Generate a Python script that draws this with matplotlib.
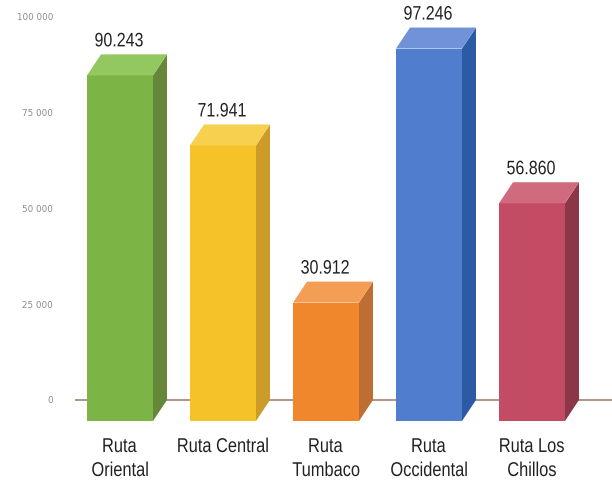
import matplotlib
matplotlib.use("Agg")
import matplotlib.pyplot as plt
from matplotlib.patches import Polygon, PathPatch
from matplotlib.textpath import TextPath
from matplotlib.font_manager import FontProperties
from matplotlib.transforms import Affine2D

categories = ["Ruta\nOriental", "Ruta Central", "Ruta\nTumbaco", "Ruta\nOccidental", "Ruta Los\nChillos"]
values = [90243, 71941, 30912, 97246, 56860]
value_labels = ["90.243", "71.941", "30.912", "97.246", "56.860"]
yticks = [0, 25000, 50000, 75000, 100000]
ytick_labels = ["0", "25 000", "50 000", "75 000", "100 000"]

front_colors = ["#7db446", "#f5c328", "#f0872d", "#507dcd", "#c34b64"]
side_colors = ["#64873a", "#cd9b28", "#be6e32", "#2d5aa5", "#8c3748"]
top_colors = ["#93c760", "#f8d050", "#f49e55", "#6f93d6", "#d06a7e"]

W, H = 612, 489
fig = plt.figure(figsize=(W / 100, H / 100), dpi=100)

# pixel geometry
px_per_unit_y = 383.0 / 100000
zero_px = 401.0
ylo, yhi = -12000, 104000
bottom_px = zero_px + (0 - ylo) * px_per_unit_y
top_px = zero_px - (yhi - 0) * px_per_unit_y
x0_px, x1_px = 75, 612
step_px = 103.0
c0_px = 120.0
xlo = (x0_px - c0_px) / step_px
xhi = (x1_px - c0_px) / step_px

ax = fig.add_axes([x0_px / W, (H - bottom_px) / H, (x1_px - x0_px) / W, (bottom_px - top_px) / H])
ax.set_xlim(xlo, xhi)
ax.set_ylim(ylo, yhi)
ax.axis("off")

width = 66 / step_px
dx = 14 / step_px
dy = 21 / px_per_unit_y

ax.plot([xlo, xhi], [0, 0], color="#a8826e", lw=1.2, zorder=1)

fp = FontProperties(family="Liberation Sans")


def narrow_text(x_disp, y_disp, s, size_px, sx=0.82, color="#222222"):
    """Draw horizontally condensed text centred at x_disp with baseline y_disp (display px)."""
    tp = TextPath((0, 0), s, size=size_px, prop=fp)
    ext = tp.get_extents()
    w = ext.x1 + ext.x0
    tr = Affine2D().scale(sx, 1.0).translate(x_disp - sx * w / 2, y_disp)
    patch = PathPatch(tp, transform=tr, fc=color, ec="none", lw=0, zorder=5)
    fig.add_artist(patch)


for i, (v, fc, sc, tc) in enumerate(zip(values, front_colors, side_colors, top_colors)):
    xl = i - width / 2
    xr = i + width / 2
    fb = -dy
    ft = v - dy
    front = Polygon([(xl, fb), (xr, fb), (xr, ft), (xl, ft)], closed=True, fc=fc, ec="none", zorder=3)
    side = Polygon([(xr, fb), (xr + dx, 0), (xr + dx, v), (xr, ft)], closed=True, fc=sc, ec="none", zorder=3)
    top = Polygon([(xl, ft), (xr, ft), (xr + dx, v), (xl + dx, v)], closed=True, fc=tc, ec="none", zorder=3)
    for p in (front, side, top):
        ax.add_patch(p)

    cx, vy = ax.transData.transform((i, v))
    narrow_text(cx - 1, vy + 8, value_labels[i], 19.5)

    _, zy = ax.transData.transform((i, 0))
    lines = categories[i].split("\n")
    for k, line in enumerate(lines):
        narrow_text(cx, zy - 52 - 24 * k, line, 20)

for t, lab in zip(yticks, ytick_labels):
    ax.text((53 - c0_px) / step_px, t, lab, ha="right", va="center",
            fontsize=6.3, color="#8a8a8a", clip_on=False)

fig.savefig("out.png", dpi=100)
